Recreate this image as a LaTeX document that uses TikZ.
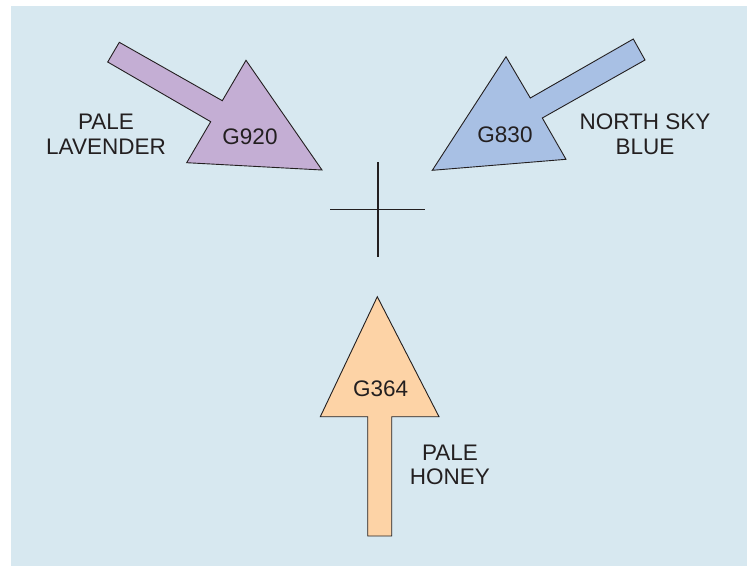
\documentclass[tikz,border=0pt]{standalone}
\usepackage{fontspec}
\setmainfont{Liberation Sans}
\definecolor{bgblue}{HTML}{D7E8F0}
\definecolor{lavender}{HTML}{C4AED4}
\definecolor{skyblue}{HTML}{A8C0E4}
\definecolor{honey}{HTML}{FDD3A6}
\definecolor{ink}{HTML}{231F20}
\tikzset{
  arrowshape/.style={draw=ink, line width=0.9pt, line join=miter},
  lbl/.style={text=ink, font=\fontsize{22.5}{24.7}\selectfont, align=center, inner sep=0pt},
  cross/.style={draw=ink, line width=1.6pt}
}
\begin{document}
\begin{tikzpicture}[x=1pt,y=-1pt]
\useasboundingbox (0,0) rectangle (750,566);
\fill[bgblue] (11,6) rectangle (747,566);
% lavender arrow
\filldraw[arrowshape, fill=lavender] (119.3,42.3) -- (222.3,100.7) -- (246,60.3) -- (322,170) -- (186.7,162.7) -- (210.7,121.7) -- (107.7,62) -- cycle;
% blue arrow
\filldraw[arrowshape, fill=skyblue] (633.3,39) -- (530.3,98) -- (506,56.7) -- (432.3,170.3) -- (566,159.3) -- (542.3,118) -- (645,60) -- cycle;
% honey arrow
\filldraw[arrowshape, fill=honey] (377.3,296.7) -- (439,416.7) -- (391.7,416.7) -- (391.7,536) -- (367.7,536) -- (367.7,416.7) -- (320.3,416.7) -- cycle;
% crosshair
\coordinate (c) at (377.7,209.3);
\coordinate (cl) at (330.3,209.3);
\coordinate (cr) at (425,209.3);
\coordinate (ct) at (377.7,162.3);
\coordinate (cb) at (377.7,256.7);
\draw[cross] (cl) -- (cr);
\draw[cross] (ct) -- (cb);
% labels
\node[lbl] (g920) at (250,136.7) {G920};
\node[lbl] (g830) at (505,135) {G830};
\node[lbl] (g364) at (380.7,388.3) {G364};
\node[lbl] (lav) at (106,134.4) {PALE\\LAVENDER};
\node[lbl] (nsb) at (645,134.4) {NORTH SKY\\BLUE};
\node[lbl] (ph) at (450,465) {PALE\\HONEY};
\end{tikzpicture}
\end{document}
